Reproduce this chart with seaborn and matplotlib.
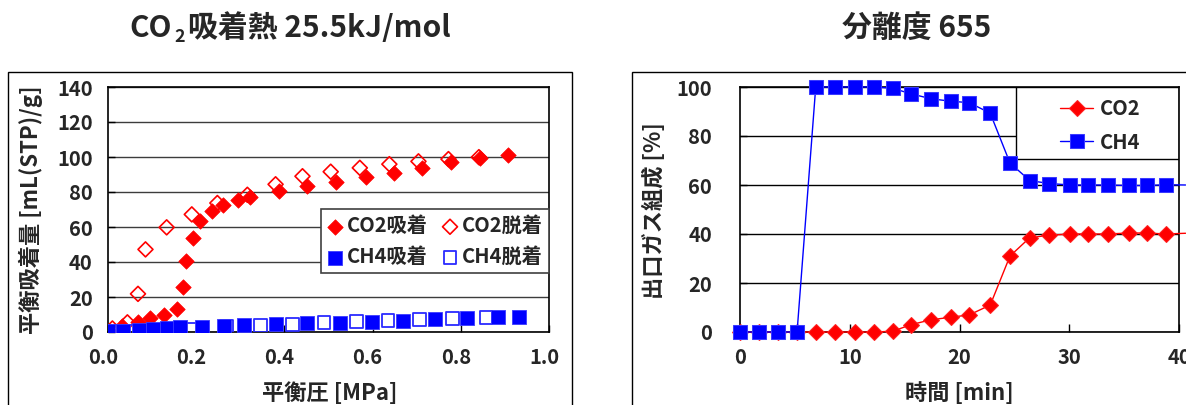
import numpy as np
import pandas as pd
import matplotlib
matplotlib.use("Agg")
import matplotlib.pyplot as plt
import matplotlib.transforms as mtransforms
from matplotlib.patches import Rectangle
import seaborn as sns

# ---------------- data: left chart (isotherms) ----------------
co2_ads_p = [0.002, 0.031, 0.067, 0.096, 0.127, 0.157, 0.171, 0.178, 0.192, 0.208, 0.235,
             0.261, 0.294, 0.323, 0.387, 0.451, 0.516, 0.584, 0.648, 0.713, 0.777, 0.843, 0.907]
co2_ads_q = [0.3, 3.3, 6.0, 7.8, 9.5, 13.0, 25.5, 40.5, 54.0, 63.2, 69.2,
             72.7, 75.2, 77.4, 80.4, 83.3, 86.0, 88.4, 90.8, 94.0, 96.9, 99.2, 101.0]
co2_des_p = [0.010, 0.044, 0.068, 0.085, 0.133, 0.190, 0.248, 0.316, 0.380, 0.441, 0.505,
             0.571, 0.638, 0.704, 0.772, 0.841]
co2_des_q = [2.0, 5.5, 21.8, 47.2, 59.8, 67.2, 73.7, 78.4, 84.4, 89.0, 91.6,
             93.8, 95.9, 97.5, 98.8, 99.9]
ch4_ads_p = [0.0, 0.034, 0.070, 0.102, 0.133, 0.164, 0.213, 0.262, 0.308, 0.381, 0.452,
             0.525, 0.598, 0.669, 0.741, 0.813, 0.884, 0.933]
ch4_ads_q = [0.3, 0.8, 1.0, 2.0, 2.2, 2.8, 2.6, 3.3, 3.8, 4.3, 5.0,
             5.3, 5.8, 6.3, 7.2, 8.0, 8.6, 8.7]
ch4_des_p = [0.006, 0.047, 0.117, 0.189, 0.268, 0.346, 0.419, 0.490, 0.564, 0.635, 0.707,
             0.782, 0.857]
ch4_des_q = [0.4, 0.5, 0.8, 1.6, 3.2, 3.9, 4.5, 5.3, 5.9, 6.4, 7.0, 7.8, 8.5]
left_labels = ["CO2吸着", "CO2脱着", "CH4吸着", "CH4脱着"]
left_xticks = [0.0, 0.2, 0.4, 0.6, 0.8, 1.0]
left_yticks = [0, 20, 40, 60, 80, 100, 120, 140]

# ---------------- data: right chart (breakthrough) ----------------
time_min = [0, 1.7, 3.5, 5.2, 6.9, 8.7, 10.5, 12.2, 13.9, 15.6, 17.4, 19.2, 20.9, 22.8,
            24.6, 26.4, 28.2, 30.1, 31.7, 33.5, 35.4, 37.1, 38.8, 40.6]
co2_pct = [0, 0, 0, 0, 0, 0, 0, 0, 0.3, 3.0, 5.0, 6.0, 7.0, 11.0,
           31.0, 38.5, 39.5, 40.0, 40.0, 40.0, 40.4, 40.4, 40.0, 40.3]
ch4_pct = [0, 0, 0, 0, 100, 100, 100, 100, 99.5, 97.2, 95.2, 94.2, 93.6, 89.3,
           69.0, 61.8, 60.6, 60.0, 60.0, 60.0, 59.8, 59.8, 60.1, 60.0]
right_labels = ["CO2", "CH4"]
right_xticks = [0, 10, 20, 30, 40]
right_yticks = [0, 20, 40, 60, 80, 100]

title_left_parts = ["CO", "2", "吸着熱 25.5kJ/mol"]
title_right = "分離度 655"

# ---------------- style ----------------
sns.set_theme(style="white")
plt.rcParams["font.family"] = ["Noto Sans CJK JP", "DejaVu Sans"]
plt.rcParams["font.weight"] = "bold"
plt.rcParams["axes.unicode_minus"] = False

W, H = 1186, 405
fig = plt.figure(figsize=(W / 100, H / 100), dpi=100)
fig.patch.set_facecolor("white")


def ax_rect(x0, x1, ytop, ybot):
    return [x0 / W, 1 - ybot / H, (x1 - x0) / W, (ybot - ytop) / H]


ax1 = fig.add_axes(ax_rect(108, 549, 87, 332))
ax2 = fig.add_axes(ax_rect(740, 1179, 87, 332))

# outer chart-area frames
fig.add_artist(Rectangle((8 / W, -0.05), (572 - 8) / W, 1 - 72 / H + 0.05,
                         transform=fig.transFigure, fill=False, ec="black", lw=1.0))
fig.add_artist(Rectangle((632 / W, -0.05), (1250 - 632) / W, 1 - 72 / H + 0.05,
                         transform=fig.transFigure, fill=False, ec="black", lw=1.0))

TICK_FS = 14.5
LAB_FS = 16

# ---------------- left chart ----------------
sns.scatterplot(x=co2_des_p, y=co2_des_q, ax=ax1, marker="D", s=58,
                facecolor="none", edgecolor="#ff0000", linewidth=1.2, zorder=3)
sns.scatterplot(x=co2_ads_p, y=co2_ads_q, ax=ax1, marker="D", s=62,
                color="#ff0000", edgecolor="#ff0000", linewidth=0.5, zorder=4)
sns.scatterplot(x=ch4_des_p, y=ch4_des_q, ax=ax1, marker="s", s=85,
                facecolor="none", edgecolor="#2a2aff", linewidth=1.3, zorder=5)
sns.scatterplot(x=ch4_ads_p, y=ch4_ads_q, ax=ax1, marker="s", s=92,
                color="#0000ff", edgecolor="#3a3aff", linewidth=0.6, zorder=6)
cols = ax1.collections
h_co2_des, h_co2_ads, h_ch4_des, h_ch4_ads = cols[-4], cols[-3], cols[-2], cols[-1]

ax1.set_xlim(0, 1.0)
ax1.set_ylim(0, 140)
ax1.set_xticks(left_xticks)
ax1.set_xticklabels([f"{v:.1f}" for v in left_xticks])
ax1.set_yticks(left_yticks)
ax1.set_yticklabels([str(v) for v in left_yticks])
ax1.set_axisbelow(True)
ax1.yaxis.grid(True, color="#3c3c3c", lw=1.0)
ax1.xaxis.grid(False)
ax1.tick_params(axis="x", bottom=True, direction="in", length=5, width=1, color="black",
                pad=11, labelsize=TICK_FS)
ax1.tick_params(axis="y", left=True, direction="in", length=5, width=1, color="black",
                pad=11, labelsize=TICK_FS)
for sp in ax1.spines.values():
    sp.set_color("black")
    sp.set_linewidth(1.2)
off = mtransforms.ScaledTranslation(-5 / 100, 0, fig.dpi_scale_trans)
for lab in ax1.get_xticklabels():
    lab.set_transform(lab.get_transform() + off)

ax1.set_xlabel("平衡圧 [MPa]", fontsize=LAB_FS, fontweight="bold")
ax1.set_ylabel("平衡吸着量 [mL(STP)/g]", fontsize=LAB_FS, fontweight="bold")
ax1.xaxis.set_label_coords((330 - 108) / 441, (332 - 393) / 245)
ax1.xaxis.label.set_verticalalignment("center")
ax1.yaxis.set_label_coords((31 - 108) / 441, (332 - 210) / 245)
ax1.yaxis.label.set_verticalalignment("center")

leg1 = ax1.legend([h_co2_ads, h_ch4_ads, h_co2_des, h_ch4_des],
                  [left_labels[0], left_labels[2], left_labels[1], left_labels[3]],
                  ncol=2, loc="upper right", bbox_to_anchor=(1.0, (332 - 209) / 245),
                  borderaxespad=0, frameon=True, fancybox=False, framealpha=1,
                  edgecolor="#404040", prop={"size": TICK_FS, "weight": "bold"},
                  handletextpad=0.2, columnspacing=0.7, labelspacing=0.5,
                  borderpad=0.3, handlelength=0.8, scatterpoints=1)
leg1.get_frame().set_linewidth(1.2)

# ---------------- right chart ----------------
mk_idx = list(range(len(time_min) - 1))
sns.lineplot(x=time_min, y=co2_pct, ax=ax2, color="#ff0000", lw=1.0, marker="D",
             markersize=8, markeredgecolor="#ff2020", markerfacecolor="#ff0000",
             markevery=mk_idx, clip_on=False, label=right_labels[0], zorder=3)
sns.lineplot(x=time_min, y=ch4_pct, ax=ax2, color="#0000ff", lw=1.0, marker="s",
             markersize=9.5, markeredgecolor="#3a3aff", markerfacecolor="#0000ff",
             markevery=mk_idx, clip_on=False, label=right_labels[1], zorder=4)

ax2.set_xlim(0, 40)
ax2.set_ylim(0, 100)
ax2.set_xticks(right_xticks)
ax2.set_xticklabels([str(v) for v in right_xticks])
ax2.set_yticks(right_yticks)
ax2.set_yticklabels([str(v) for v in right_yticks])
ax2.set_axisbelow(True)
ax2.yaxis.grid(True, color="black", lw=1.0)
ax2.xaxis.grid(False)
ax2.tick_params(axis="x", bottom=True, direction="in", length=6, width=1, color="black",
                pad=11, labelsize=TICK_FS)
ax2.tick_params(axis="y", left=True, direction="in", length=5, width=1, color="black",
                pad=20, labelsize=TICK_FS)
for sp in ax2.spines.values():
    sp.set_color("black")
    sp.set_linewidth(1.2)

ax2.set_xlabel("時間 [min]", fontsize=LAB_FS, fontweight="bold")
ax2.set_ylabel("出口ガス組成 [%]", fontsize=LAB_FS, fontweight="bold")
ax2.xaxis.set_label_coords(0.5, (332 - 393) / 245)
ax2.xaxis.label.set_verticalalignment("center")
ax2.yaxis.set_label_coords((654 - 740) / 439, (332 - 211) / 245)
ax2.yaxis.label.set_verticalalignment("center")

# legend box (drawn separately for asymmetric padding)
ax2.add_patch(Rectangle(((1016 - 740) / 439, (332 - 159) / 245),
                        1 - (1016 - 740) / 439, 1 - (332 - 159) / 245,
                        transform=ax2.transAxes, fc="white", ec="black", lw=1.0,
                        zorder=1.5))
leg2 = ax2.legend(loc="center left", bbox_to_anchor=((1060 - 740) / 439, (332 - 125.5) / 245),
                  borderaxespad=0, borderpad=0, frameon=False,
                  prop={"size": TICK_FS, "weight": "bold"},
                  handlelength=1.65, handletextpad=0.35, labelspacing=0.6)

# ---------------- titles ----------------
renderer = fig.canvas.get_renderer()
TITLE_FS = 21.5
parts = [(title_left_parts[0], TITLE_FS, 0), (title_left_parts[1], TITLE_FS * 0.6, 5),
         (title_left_parts[2], TITLE_FS, 0)]
objs = []
for s, fs, dy in parts:
    t = fig.text(0, 0, s, fontsize=fs, fontweight="bold", ha="left", va="baseline")
    objs.append((t, dy))
widths = [t.get_window_extent(renderer).width for t, _ in objs]
gap = 3
total = sum(widths) + gap * 2
x = 290 - total / 2
base = 37
for (t, dy), w in zip(objs, widths):
    t.set_position((x / W, 1 - (base + dy) / H))
    x += w + gap

fig.text(917 / W, 1 - 37 / H, title_right, fontsize=TITLE_FS, fontweight="bold",
         ha="center", va="baseline")

fig.savefig("out.png", dpi=100, facecolor="white")
